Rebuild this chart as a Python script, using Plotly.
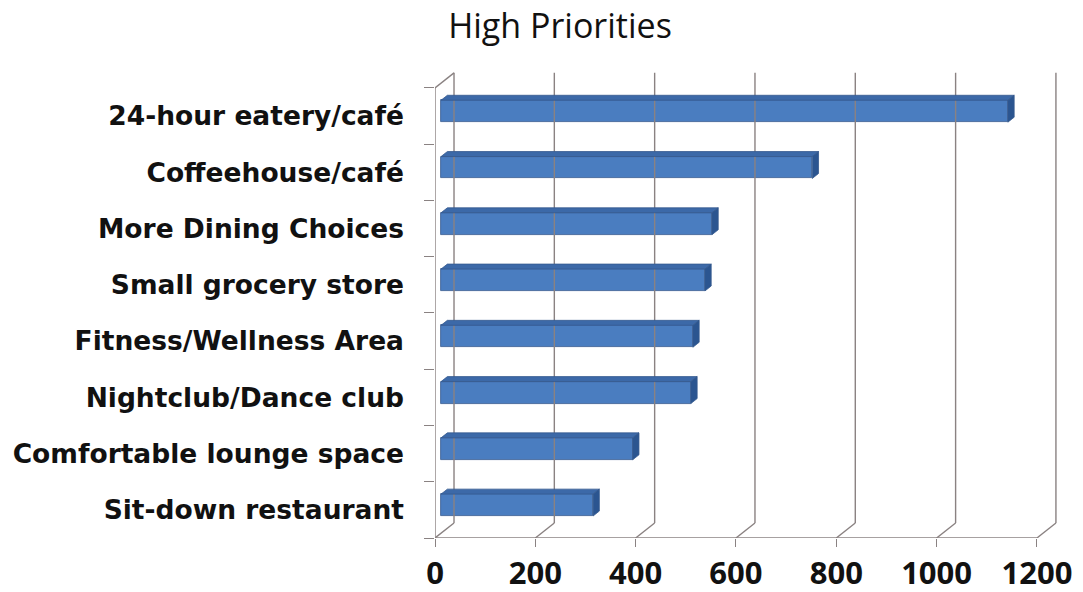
import plotly.graph_objects as go

# Survey results: number of respondents naming each item a high priority
categories = [
    "24-hour eatery/café",
    "Coffeehouse/café",
    "More Dining Choices",
    "Small grocery store",
    "Fitness/Wellness Area",
    "Nightclub/Dance club",
    "Comfortable lounge space",
    "Sit-down restaurant",
]
values = [1130, 740, 540, 526, 502, 498, 382, 303]
x_ticks = [0, 200, 400, 600, 800, 1000, 1200]
chart_title = "High Priorities"

# Plot from the bottom up so the first category sits on top
cats = categories[::-1]
vals = values[::-1]
pos = list(range(len(cats)))
y_lo, y_hi = -0.5, len(cats) - 0.5

# Oblique projection for the 3-D look (depth 0 = front plane, 1 = back wall)
DX = 37.9      # horizontal shift of the back wall, in x units
DY = 0.267     # vertical shift of the back wall, in category units
F0, F1 = 0.32, 0.65   # depth span of each bar
BAR_H = 0.39


def proj(v, y, d):
    return v + d * DX, y + d * DY


GRID = "#8a8282"
FRONT = "#4a7dc0"
TOP = "#3c69a8"
SIDE = "#2b5590"
EDGE = "#35598e"
TEXT = "#111111"
FAMILY = "Open Sans"

fig = go.Figure()


def add_lines(segments, color=GRID, width=1.4):
    xs, ys = [], []
    for (a, b) in segments:
        xs += [a[0], b[0], None]
        ys += [a[1], b[1], None]
    fig.add_trace(go.Scatter(x=xs, y=ys, mode="lines",
                             line=dict(color=color, width=width),
                             hoverinfo="skip", showlegend=False))


# Back wall gridlines, floor diagonals, front floor edge and left wall
segs = []
for v in x_ticks:
    segs.append((proj(v, y_lo, 1), proj(v, y_hi, 1)))
    segs.append((proj(v, y_lo, 0), proj(v, y_lo, 1)))
segs.append((proj(x_ticks[0], y_lo, 0), proj(x_ticks[-1], y_lo, 0)))
segs.append((proj(0, y_lo, 0), proj(0, y_hi, 0)))
segs.append((proj(0, y_hi, 0), proj(0, y_hi, 1)))
add_lines(segs)

# Front faces of the bars
fig.add_trace(go.Bar(
    y=[p + F0 * DY for p in pos], x=vals, base=F0 * DX,
    orientation="h", width=BAR_H,
    marker=dict(color=FRONT, line=dict(color=EDGE, width=0.8)),
    hoverinfo="skip", showlegend=False,
))

# Top and end faces of the bars
for p, v in zip(pos, vals):
    t = p + BAR_H / 2
    b = p - BAR_H / 2
    top = [proj(0, t, F0), proj(v, t, F0), proj(v, t, F1), proj(0, t, F1), proj(0, t, F0)]
    side = [proj(v, b, F0), proj(v, t, F0), proj(v, t, F1), proj(v, b, F1), proj(v, b, F0)]
    for poly, col in ((top, TOP), (side, SIDE)):
        fig.add_trace(go.Scatter(
            x=[q[0] for q in poly], y=[q[1] for q in poly],
            mode="lines", fill="toself", fillcolor=col,
            line=dict(color=EDGE, width=0.8),
            hoverinfo="skip", showlegend=False,
        ))

fig.update_layout(
    width=1083, height=592,
    margin=dict(l=435, r=21, t=71, b=54),
    plot_bgcolor="white", paper_bgcolor="white",
    title=dict(text=chart_title, xref="container", yref="container",
               x=560 / 1083, xanchor="center", y=1 - 26 / 592, yanchor="middle",
               font=dict(family=FAMILY, size=34, color=TEXT)),
    xaxis=dict(range=[0, 1250], tickvals=x_ticks, showgrid=False, zeroline=False,
               showline=False, ticks="outside", ticklen=8, tickcolor=GRID, tickwidth=1.4,
               ticklabelstandoff=0, automargin=False,
               tickfont=dict(family=FAMILY, size=31, color=TEXT, weight="bold")),
    yaxis=dict(range=[y_lo, y_hi + 0.3], tickvals=pos, ticktext=cats,
               showgrid=False, zeroline=False, showline=False, ticks="",
               ticklabelstandoff=30, automargin=False,
               tickfont=dict(family="DejaVu Sans", size=26.5, color=TEXT, weight="bold"),
               minor=dict(tickmode="array", tickvals=[k - 0.5 for k in range(len(cats) + 1)],
                          ticks="outside", ticklen=10, tickcolor=GRID, tickwidth=1.4)),
    bargap=0,
)

fig.write_html("out.html")
